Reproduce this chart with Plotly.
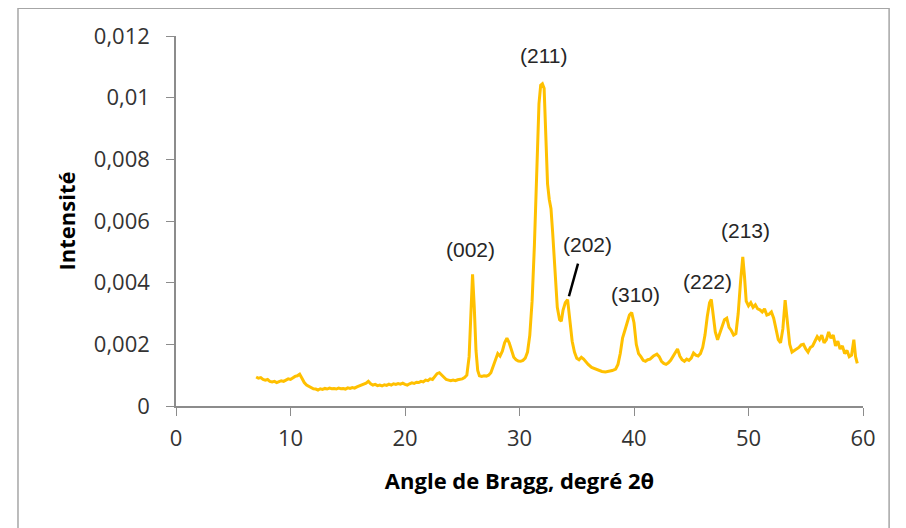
import plotly.graph_objects as go

# ---- data ----
angle = [
    7.0, 7.2, 7.4, 7.6, 7.8, 8.0, 8.2, 8.4, 8.6, 8.8, 9.0, 9.2, 9.4, 9.6, 9.8,
    10.0, 10.2, 10.4, 10.6, 10.8, 11.0, 11.2, 11.4, 11.6, 11.8, 12.0, 12.2, 12.4,
    12.6, 12.8, 13.0, 13.2, 13.4, 13.6, 13.8, 14.0, 14.2, 14.4, 14.6, 14.8, 15.0,
    15.2, 15.4, 15.6, 15.8, 16.0, 16.2, 16.4, 16.6, 16.8, 17.0, 17.2, 17.4, 17.6,
    17.8, 18.0, 18.2, 18.4, 18.6, 18.8, 19.0, 19.2, 19.4, 19.6, 19.8, 20.0, 20.2,
    20.4, 20.6, 20.8, 21.0, 21.2, 21.4, 21.6, 21.8, 22.0, 22.2, 22.4, 22.6, 22.8,
    23.0, 23.2, 23.4, 23.6, 23.8, 24.0, 24.2, 24.4, 24.6, 24.8, 25.0, 25.2, 25.4,
    25.6, 25.75, 25.9, 26.05, 26.2, 26.35, 26.5, 26.7, 26.9, 27.1, 27.3, 27.5,
    27.7, 27.9, 28.1, 28.3, 28.5, 28.7, 28.9, 29.1, 29.3, 29.5, 29.7, 29.9, 30.1,
    30.3, 30.5, 30.7, 30.9, 31.1, 31.3, 31.5, 31.7, 31.85, 32.0, 32.15, 32.3,
    32.45, 32.6, 32.75, 32.9, 33.1, 33.3, 33.5, 33.65, 33.8, 34.0, 34.2, 34.4,
    34.6, 34.8, 35.0, 35.2, 35.4, 35.6, 35.8, 36.0, 36.3, 36.6, 36.9, 37.2, 37.5,
    37.8, 38.1, 38.4, 38.6, 38.8, 39.0, 39.2, 39.4, 39.6, 39.8, 40.0, 40.2, 40.4,
    40.6, 40.8, 41.0, 41.2, 41.4, 41.7, 42.0, 42.2, 42.4, 42.6, 42.8, 43.0, 43.2,
    43.5, 43.8, 44.0, 44.2, 44.4, 44.6, 44.8, 45.0, 45.2, 45.4, 45.6, 45.8, 46.0,
    46.2, 46.4, 46.6, 46.75, 46.9, 47.1, 47.3, 47.5, 47.7, 47.9, 48.1, 48.3, 48.5,
    48.7, 48.9, 49.1, 49.3, 49.5, 49.65, 49.8, 50.0, 50.2, 50.4, 50.6, 50.8, 51.0,
    51.2, 51.4, 51.6, 51.8, 52.0, 52.2, 52.4, 52.6, 52.8, 53.0, 53.2, 53.4, 53.6,
    53.8, 54.0, 54.2, 54.4, 54.6, 54.8, 55.0, 55.2, 55.4, 55.6, 55.8, 56.0, 56.2,
    56.4, 56.6, 56.8, 57.0, 57.2, 57.4, 57.6, 57.8, 58.0, 58.2, 58.4, 58.6, 58.8,
    59.0, 59.2, 59.35, 59.5,
]

intensite = [
    0.00094, 0.00090, 0.00092, 0.00086, 0.00084, 0.00086, 0.00080, 0.00078,
    0.00080, 0.00076, 0.00079, 0.00082, 0.00080, 0.00085, 0.00088, 0.00086,
    0.00092, 0.00096, 0.00098, 0.00103, 0.00090, 0.00076, 0.00068, 0.00064,
    0.00060, 0.00056, 0.00055, 0.00052, 0.00056, 0.00054, 0.00057, 0.00055,
    0.00058, 0.00056, 0.00057, 0.00055, 0.00058, 0.00056, 0.00057, 0.00055,
    0.00059, 0.00057, 0.00060, 0.00058, 0.00062, 0.00065, 0.00067, 0.00070,
    0.00074, 0.00080, 0.00072, 0.00068, 0.00070, 0.00066, 0.00068, 0.00065,
    0.00069, 0.00067, 0.00071, 0.00068, 0.00072, 0.00070, 0.00073, 0.00071,
    0.00074, 0.00070, 0.00068, 0.00072, 0.00075, 0.00073, 0.00077, 0.00076,
    0.00080, 0.00078, 0.00084, 0.00082, 0.00088, 0.00086, 0.00096, 0.00105,
    0.00108, 0.00100, 0.00092, 0.00086, 0.00084, 0.00082, 0.00084, 0.00082,
    0.00085, 0.00086, 0.00088, 0.00092, 0.00100, 0.00160, 0.00300, 0.00427,
    0.00320, 0.00180, 0.00115, 0.00098, 0.00096, 0.00098, 0.00097, 0.00100,
    0.00108, 0.00130, 0.00155, 0.00170, 0.00162, 0.00178, 0.00205, 0.00220,
    0.00205, 0.00180, 0.00158, 0.00150, 0.00146, 0.00145, 0.00148, 0.00155,
    0.00175, 0.00230, 0.00340, 0.00520, 0.00750, 0.00980, 0.01040, 0.01045,
    0.01030, 0.00900, 0.00720, 0.00670, 0.00640, 0.00560, 0.00420, 0.00320,
    0.00280, 0.00275, 0.00310, 0.00335, 0.00345, 0.00280, 0.00210, 0.00175,
    0.00155, 0.00150, 0.00158, 0.00152, 0.00142, 0.00135, 0.00125, 0.00120,
    0.00115, 0.00112, 0.00110, 0.00112, 0.00115, 0.00120, 0.00135, 0.00170,
    0.00220, 0.00245, 0.00270, 0.00295, 0.00303, 0.00270, 0.00200, 0.00170,
    0.00160, 0.00148, 0.00145, 0.00150, 0.00152, 0.00162, 0.00168, 0.00160,
    0.00145, 0.00138, 0.00135, 0.00140, 0.00148, 0.00165, 0.00185, 0.00162,
    0.00150, 0.00145, 0.00152, 0.00148, 0.00155, 0.00172, 0.00165, 0.00162,
    0.00170, 0.00190, 0.00230, 0.00290, 0.00335, 0.00346, 0.00300, 0.00240,
    0.00215, 0.00235, 0.00260, 0.00280, 0.00285, 0.00255, 0.00245, 0.00230,
    0.00235, 0.00300, 0.00400, 0.00484, 0.00420, 0.00340, 0.00325, 0.00335,
    0.00320, 0.00328, 0.00315, 0.00312, 0.00305, 0.00315, 0.00295, 0.00298,
    0.00305, 0.00285, 0.00250, 0.00215, 0.00205, 0.00250, 0.00343, 0.00280,
    0.00200, 0.00175, 0.00180, 0.00185, 0.00190, 0.00198, 0.00200, 0.00185,
    0.00175, 0.00190, 0.00195, 0.00210, 0.00225, 0.00215, 0.00230, 0.00205,
    0.00215, 0.00240, 0.00220, 0.00230, 0.00195, 0.00210, 0.00185, 0.00195,
    0.00170, 0.00180, 0.00160, 0.00165, 0.00215, 0.00160, 0.00138,
]

x_ticks = [0, 10, 20, 30, 40, 50, 60]
y_tick_values = [0, 0.002, 0.004, 0.006, 0.008, 0.010, 0.012]
y_tick_labels = ["0", "0,002", "0,004", "0,006", "0,008", "0,01", "0,012"]

peak_labels = ["(002)", "(211)", "(202)", "(310)", "(222)", "(213)"]

# ---- figure ----
AXIS_GREY = "#8c8c8c"
fig = go.Figure()
fig.add_trace(go.Scatter(
    x=angle, y=intensite, mode="lines",
    line=dict(color="#FFC000", width=3),
    hoverinfo="skip", showlegend=False,
))

label_pos = [(25.76, 0.00507), (32.1, 0.01136), (35.98, 0.00523),
             (40.17, 0.00363), (46.46, 0.00404), (49.78, 0.00568)]
for txt, (lx, ly) in zip(peak_labels, label_pos):
    fig.add_annotation(x=lx, y=ly, text=txt, showarrow=False,
                       font=dict(family="Liberation Sans", size=21, color="#262626"))

# leader line for (202)
fig.add_shape(type="line", xref="x", yref="y", x0=35.11, y0=0.00462, x1=34.32, y1=0.00356,
              line=dict(color="black", width=2.5))

# outer frame
fig.add_shape(type="rect", xref="paper", yref="paper", x0=-0.23, x1=1.038, y0=-0.40, y1=1.075,
              line=dict(color="#a6a6a6", width=1.5), layer="below")

tick_font = dict(family="Open Sans", size=22, color="#333333")
title_font = dict(family="Open Sans", size=22, color="#000000")

fig.update_layout(
    width=906, height=528,
    margin=dict(l=168, r=51, t=24, b=130),
    paper_bgcolor="white", plot_bgcolor="white",
    xaxis=dict(
        range=[0, 60], tickvals=x_ticks, ticks="outside", ticklen=8,
        tickcolor=AXIS_GREY, showline=True, linecolor=AXIS_GREY, linewidth=1.5,
        showgrid=False, zeroline=False, tickfont=tick_font, ticklabelstandoff=4,
        title=dict(text="<b>Angle de Bragg, degré 2θ</b>", font=title_font, standoff=22),
    ),
    yaxis=dict(
        range=[0, 0.012], tickvals=y_tick_values, ticktext=y_tick_labels,
        ticks="outside", ticklen=8, tickcolor=AXIS_GREY, showline=True,
        linecolor=AXIS_GREY, linewidth=1.5, showgrid=False, zeroline=False,
        tickfont=tick_font, ticklabelstandoff=12,
        title=dict(text="<b>Intensité</b>", font=title_font, standoff=12),
    ),
)

fig.write_html("out.html")
